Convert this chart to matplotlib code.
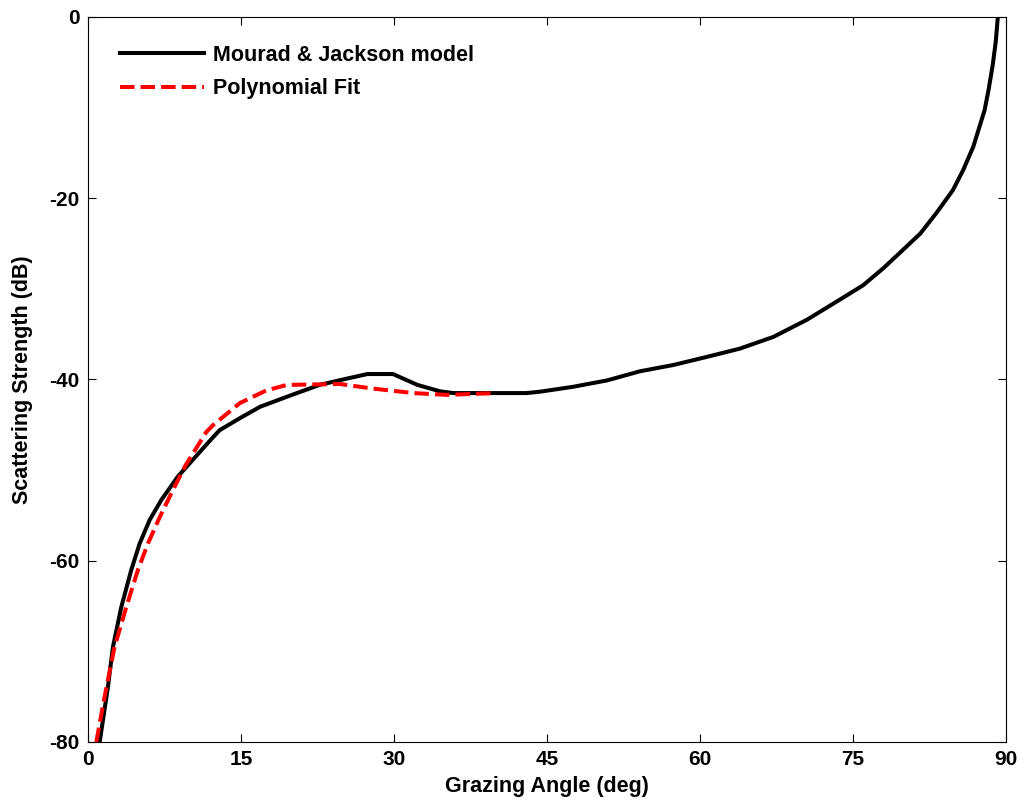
import numpy as np
import matplotlib.pyplot as plt

plt.rcParams['font.family'] = ['Liberation Sans', 'DejaVu Sans']
plt.rcParams['font.weight'] = 'bold'
plt.rcParams['axes.unicode_minus'] = False

# Mourad & Jackson model
model_angle = [1.15, 1.96, 2.45, 3.27, 4.25, 5.07, 6.05, 7.19, 8.82, 11.76, 12.9,
               15.0, 16.9, 20.0, 22.7, 25.4, 27.4, 29.9, 32.3, 34.5, 35.8, 43.0,
               44.3, 47.6, 50.9, 54.1, 57.4, 60.7, 63.9, 67.2, 70.5, 73.7, 76.0,
               78.0, 79.9, 81.6, 83.2, 84.8, 85.8, 86.8, 87.9, 88.3, 88.7, 89.0, 89.2]
model_db = [-80.0, -73.9, -69.5, -65.1, -61.0, -58.1, -55.5, -53.3, -50.7, -47.0, -45.6,
            -44.2, -43.0, -41.7, -40.6, -39.9, -39.4, -39.4, -40.6, -41.3, -41.5, -41.5,
            -41.35, -40.8, -40.1, -39.1, -38.4, -37.5, -36.6, -35.3, -33.4, -31.2, -29.6,
            -27.7, -25.7, -23.9, -21.6, -19.1, -16.9, -14.3, -10.3, -8.0, -5.3, -2.7, 0.0]

# Polynomial fit
fit_angle = [0.82, 1.63, 2.61, 3.76, 4.9, 5.88, 7.03, 8.33, 9.5, 11.6, 12.3, 14.9,
             17.5, 19.5, 24.7, 27.9, 31.9, 35.2, 39.9]
fit_db = [-80.0, -75.0, -69.5, -65.1, -61.0, -58.1, -55.2, -52.2, -49.6, -45.8, -45.0,
          -42.6, -41.2, -40.6, -40.5, -41.0, -41.5, -41.7, -41.5]

fig = plt.figure(figsize=(10.24, 8.08), dpi=100)
ax = fig.add_axes([0.0859, 0.0817, 0.8965, 0.8973])

ax.plot(model_angle, model_db, color='black', linewidth=2.9, label='Mourad & Jackson model')
ax.plot(fit_angle, fit_db, color='red', linewidth=2.9, linestyle=(0, (3.6, 1.5)),
        label='Polynomial Fit')

ax.set_xlim(0, 90)
ax.set_ylim(-80, 0)
ax.set_xticks(np.arange(0, 91, 15))
ax.set_yticks(np.arange(-80, 1, 20))
ax.tick_params(direction='in', top=True, right=True, labelsize=15, length=6, pad=6)
ax.set_xlabel('Grazing Angle (deg)', fontsize=15.5, fontweight='bold', labelpad=5)
ax.set_ylabel('Scattering Strength (dB)', fontsize=15.5, fontweight='bold', labelpad=12)
ax.legend(loc='upper left', bbox_to_anchor=(0.035, 0.962), frameon=False, fontsize=15.5,
          handlelength=3.9, handletextpad=0.4, borderpad=0, borderaxespad=0,
          labelspacing=0.6)

fig.savefig('out.png', dpi=100)
